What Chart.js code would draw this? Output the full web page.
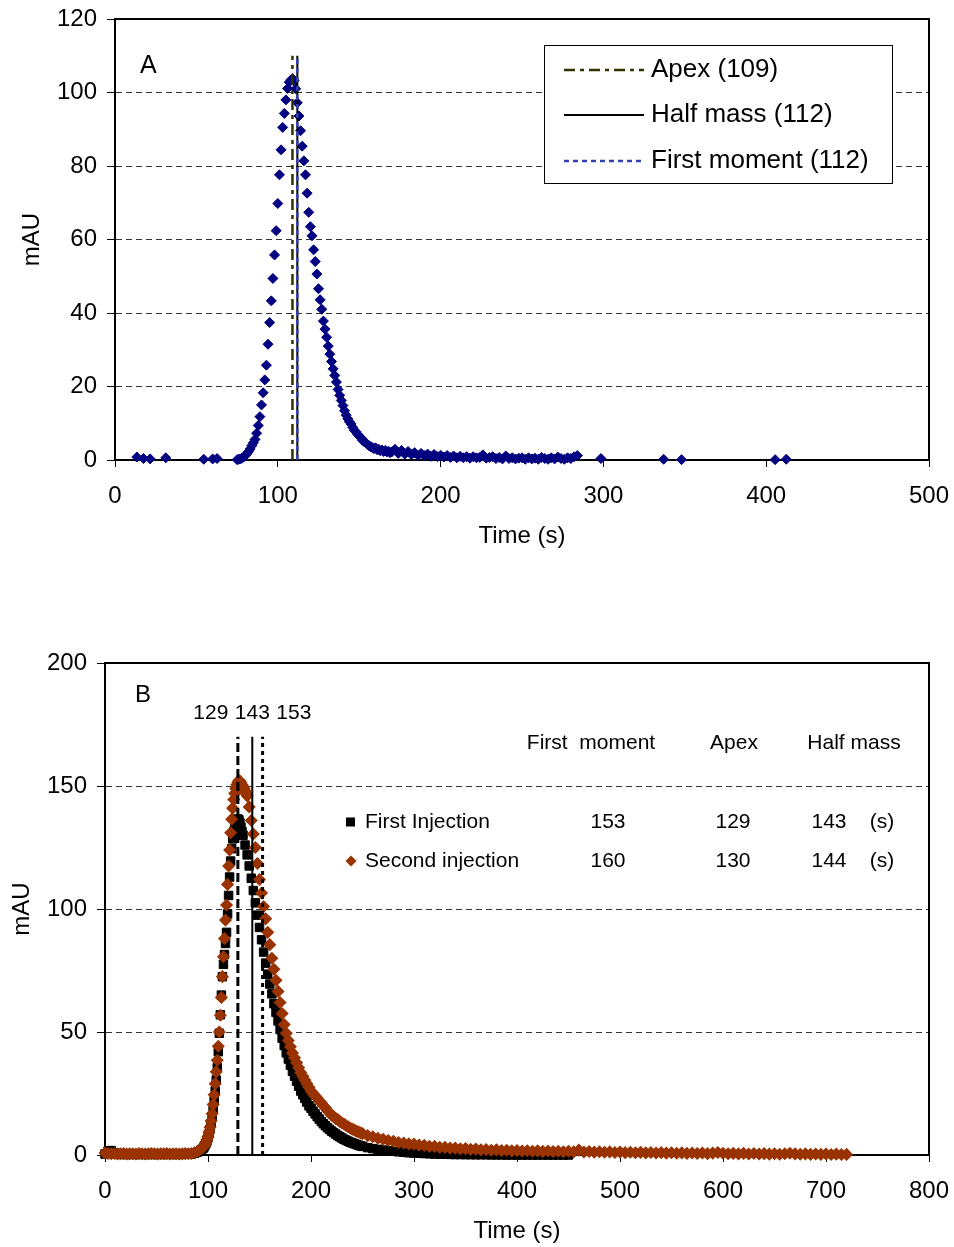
<!DOCTYPE html>
<html>
<head>
<meta charset="utf-8">
<script src="https://cdn.jsdelivr.net/npm/chart.js@4.4.1/dist/chart.umd.min.js"></script>
<style>
  html, body { margin: 0; padding: 0; background: #fff; }
  #chartA { position: absolute; left: 0; top: 0; }
  #chartB { position: absolute; left: 0; top: 600px; }
</style>
</head>
<body>
<canvas id="chartA" width="954" height="560"></canvas>
<canvas id="chartB" width="954" height="647"></canvas>
<script>
const FAMILY = "'Liberation Sans', Arial, sans-serif";

// ---- Panel A data (time in s, signal in mAU) ----
const baseTimeA = [13.4, 17.5, 21.6, 31.2, 54.5, 60.0, 62.7];
const baseMauA = [0.8, 0.4, 0.3, 0.6, 0.2, 0.3, 0.4];

const peakStartA = 75;   // 1 s sampling
const peakMauA = [
  0.1, 0.2, 0.3, 0.5, 0.8, 1.2, 1.7, 2.3, 3.0, 3.9,
  4.7, 5.6, 7.3, 9.4, 11.8, 15.0, 18.3, 21.8, 25.8, 31.5,
  37.4, 43.3, 49.4, 55.8, 62.4, 69.8, 77.6, 84.4, 90.5, 94.3,
  98.0, 101.1, 102.8, 103.4, 103.8, 103.2, 101.0, 97.2, 93.6, 89.6,
  85.4, 81.4, 77.6, 72.6, 67.4, 63.5, 61.0, 57.2, 54.0, 50.6,
  46.6, 43.6, 41.0, 37.8, 35.6, 33.4, 31.0, 28.8, 26.8, 24.8,
  23.0, 21.2, 19.2, 17.6, 16.2, 14.8, 13.4, 12.2, 11.2, 10.4,
  9.8, 8.9, 8.1, 7.7, 7.0, 6.5, 6.1, 5.4, 5.0, 4.7,
  4.3, 3.9, 3.6, 3.4, 3.1, 3.3, 2.8, 2.9, 2.5, 2.7,
  2.3, 2.6, 2.2, 2.4, 2.0, 2.2
];

const tailStartA = 172;  // 2 s sampling
const tailMauA = [
  2.9, 1.8, 2.6, 1.6, 2.3, 1.5, 2.0, 1.3, 1.8, 1.2,
  1.6, 1.0, 1.5, 0.9, 1.3, 0.8, 1.2, 0.7, 1.1, 0.6,
  1.0, 0.6, 0.9, 0.5, 0.9, 0.6, 0.7, 1.4, 0.5, 0.7,
  0.9, 0.4, 0.7, 0.3, 1.1, 0.4, 0.6, 0.3, 0.5, 0.6,
  0.2, 0.6, 0.3, 0.5, 0.2, 0.7, 0.4, 0.2, 0.6, 0.3,
  0.8, 0.4, 0.2, 0.6, 0.4, 0.9, 1.2
];

const lateTimeA = [298.5, 337, 348, 405.5, 412.3];
const lateMauA = [0.4, 0.2, 0.1, 0.1, 0.2];

const markerNamesA = ['Apex (109)', 'Half mass (112)', 'First moment (112)'];
const markerTimesA = [109, 112, 112];
const markerTopA = 110;

// ---- Panel B data ----
const baseStartB = 0;    // 3 s sampling
const firstBaseB = [
  0.4, 1.6, 1.8, 0.9, 0.3, 0.2, 0.3, 0.2, 0.2, 0.3,
  0.2, 0.2, 0.3, 0.2, 0.2, 0.3, 0.2, 0.2, 0.3, 0.2,
  0.2, 0.3, 0.2, 0.2, 0.3, 0.2, 0.3, 0.3, 0.4, 0.7,
  1.2, 2.0
];
const secondBaseB = [
  0.8, 0.6, 0.5, 0.6, 0.4, 0.5, 0.6, 0.4, 0.5, 0.5,
  0.4, 0.6, 0.5, 0.4, 0.5, 0.6, 0.5, 0.4, 0.5, 0.5,
  0.6, 0.4, 0.5, 0.5, 0.4, 0.5, 0.6, 0.5, 0.6, 0.9,
  1.5, 2.4
];

const riseStartB = 95;   // 1 s sampling
const firstRiseB = [
  2.6, 3.2, 3.9, 4.7, 5.7, 7.0, 8.6, 10.5, 12.8, 15.5,
  18.6, 22.0, 26.0, 30.5, 35.5, 42.0, 49.5, 57.0, 65.0, 72.5,
  77.5, 81.5, 86.0, 90.5, 98.0, 105.5, 113.0, 119.5, 124.5, 128.5,
  131.5, 134.0, 135.5, 136.3, 136.6, 136.2, 135.0, 133.3, 131.5
];
const secondRiseB = [
  3.0, 3.6, 4.3, 5.2, 6.3, 7.6, 9.3, 11.3, 13.8, 16.8,
  20.5, 24.5, 29.0, 33.8, 38.5, 44.2, 50.0, 56.8, 64.0, 72.5,
  80.6, 88.0, 95.5, 101.6, 110.0, 117.5, 124.0, 131.0, 136.5, 141.0,
  144.5, 147.0, 149.0, 150.5, 151.5, 152.2, 152.0, 151.3, 150.5, 149.8,
  149.0, 148.0, 147.0
];

const firstFallStartB = 134;  // 2 s sampling
const firstFallB = [
  130, 126, 122, 117.5, 112.5, 107.5, 102.5, 97.5, 92.5, 87.5,
  82.5, 78, 73.5, 69.5, 65.5, 61.5, 58, 54.5, 51, 47.5,
  44.5, 41.5, 39, 36.5, 34, 32, 30, 28, 26, 24.5,
  23, 21.5, 20, 19, 17.8, 16.7, 15.6, 14.6, 13.6, 12.7,
  11.9, 11.1, 10.4, 9.7, 9.1, 8.5, 7.9, 7.4, 6.9, 6.4,
  6.0, 5.6, 5.2, 4.9, 4.6, 4.3, 4.0, 3.7, 3.5
];
const secondFallStartB = 138;
const secondFallB = [
  146, 141.5, 136, 130.5, 125, 118.5, 112, 106.5, 101, 96,
  90.5, 85.5, 80, 75.5, 71, 66.5, 62, 57.5, 53, 49.5,
  46.5, 44, 41.5, 39.5, 37.5, 35.5, 33.5, 32, 30.5, 29,
  27.5, 26, 25, 24, 23.2, 22, 21.2, 20, 19.2, 18,
  17.2, 16.2, 15.6, 14.8, 14.4, 13.6, 13.0, 12.6, 12.0, 11.5,
  11.0, 10.5, 10.2, 9.7, 9.4, 9.0, 8.7
];

const tailStartB = 255;  // 5 s sampling
const firstTailB = [
  3.0, 2.6, 2.3, 2.0, 1.7, 1.5, 1.3, 1.1, 0.9, 0.8,
  0.7, 0.6, 0.5, 0.4, 0.35, 0.3, 0.25, 0.2, 0.2, 0.15,
  0.15, 0.1, 0.1, 0.1, 0.05, 0.05, 0.05, 0, 0, 0,
  0, 0, 0, 0, 0, 0, 0, 0, 0, 0
];
const secondTailB = [
  7.9, 7.4, 6.8, 6.4, 5.9, 5.6, 5.1, 4.9, 4.5, 4.4,
  4.0, 3.9, 3.5, 3.5, 3.1, 3.1, 2.8, 2.8, 2.5, 2.6,
  2.3, 2.4, 2.1, 2.2, 1.95, 2.1, 1.8, 1.95, 1.7, 1.85,
  1.6, 1.75, 1.5, 1.7, 1.45, 1.6, 1.4, 1.55, 1.3, 1.5,
  1.25, 2.0, 1.2, 1.4, 1.15, 1.3, 1.1, 1.25, 1.0, 1.2,
  0.95, 1.1, 0.9, 1.05, 0.85, 1.0, 0.8, 0.95, 0.75, 0.9,
  0.7, 0.85, 0.65, 0.8, 0.6, 0.8, 0.55, 0.75, 1.0, 0.7,
  0.5, 0.65, 0.45, 0.65, 0.4, 0.6, 0.4, 0.55, 0.35, 0.5,
  0.3, 0.5, 0.7, 0.45, 0.3, 0.45, 0.25, 0.4, 0.25, 0.4,
  0.2, 0.35, 0.2, 0.25
];

const lineTimesB = [129, 143, 153];
const lineTopB = 170;
const tableHeadB = ['First  moment', 'Apex', 'Half mass'];
const seriesNamesB = ['First Injection', 'Second injection'];
const firstRowB = [153, 129, 143];
const secondRowB = [160, 130, 144];

// ---- helpers ----
function seg(start, step, vals) {
  return vals.map((v, i) => ({ x: start + i * step, y: v }));
}
function pairs(ts, vals) {
  return ts.map((t, i) => ({ x: t, y: vals[i] }));
}
function vline(t, top, color, dash, width) {
  return {
    data: [{ x: t, y: 0 }, { x: t, y: top }],
    showLine: true, borderColor: color, borderDash: dash, borderWidth: width,
    pointRadius: 0, fill: false, clip: false
  };
}
function font(size) {
  return { family: FAMILY, size: size, lineHeight: 1.2 };
}
// the tick labels may hang over the plot edges; keep the plot box fixed
function noPad(s) {
  s.paddingLeft = 0; s.paddingRight = 0; s.paddingTop = 0; s.paddingBottom = 0;
}
function scalesFor(xMax, xStep, yMax, yStep, yWidth, xHeight, xTitlePad, yTitlePad) {
  return {
    x: {
      type: 'linear', min: 0, max: xMax,
      afterFit: s => { s.height = xHeight; noPad(s); },
      ticks: { stepSize: xStep, autoSkip: false, maxRotation: 0, color: '#000', padding: 15, font: font(24) },
      grid: { drawOnChartArea: false, tickLength: 7, color: '#000', lineWidth: 1 },
      border: { color: '#000', width: 2 },
      title: { display: true, text: 'Time (s)', color: '#000', font: font(24), padding: { top: 0, bottom: xTitlePad } }
    },
    y: {
      min: 0, max: yMax,
      afterFit: s => { s.width = yWidth; noPad(s); },
      ticks: { stepSize: yStep, color: '#000', padding: 10, font: font(24) },
      grid: { color: '#333', tickColor: '#000', tickLength: 8, lineWidth: 1 },
      border: { color: '#000', width: 2, dash: [6, 4] },
      title: { display: true, text: 'mAU', color: '#000', font: font(24), padding: { top: yTitlePad, bottom: 0 } }
    }
  };
}

const frame = {
  id: 'frame',
  beforeDatasetsDraw(chart) {
    const { ctx, chartArea: a } = chart;
    ctx.save();
    ctx.strokeStyle = '#000';
    ctx.lineWidth = 2;
    ctx.strokeRect(a.left, a.top, a.right - a.left, a.bottom - a.top);
    ctx.restore();
  }
};

// ---- Panel A ----
const pointsA = [].concat(
  pairs(baseTimeA, baseMauA),
  seg(peakStartA, 1, peakMauA),
  seg(tailStartA, 2, tailMauA),
  pairs(lateTimeA, lateMauA)
);

const lineStylesA = [
  { color: '#333300', dash: [11, 5, 4, 5], width: 2.5 },
  { color: '#000000', dash: [], width: 2 },
  { color: '#3340b0', dash: [5, 4], width: 2.5 }
];

const notesA = {
  id: 'notesA',
  afterDraw(chart) {
    const ctx = chart.ctx;
    ctx.save();
    ctx.fillStyle = '#000';
    ctx.textBaseline = 'middle';
    ctx.textAlign = 'left';
    ctx.font = '25px ' + FAMILY;
    ctx.fillText('A', 140, 66);

    // legend box
    ctx.fillStyle = '#fff';
    ctx.fillRect(544, 45, 348, 138);
    ctx.strokeStyle = '#000';
    ctx.lineWidth = 1;
    ctx.strokeRect(544.5, 45.5, 348, 138);
    const rows = [70, 115, 161];
    ctx.font = '26px ' + FAMILY;
    markerNamesA.forEach((name, i) => {
      const st = lineStylesA[i];
      ctx.beginPath();
      ctx.setLineDash(st.dash);
      ctx.strokeStyle = st.color;
      ctx.lineWidth = st.width;
      ctx.moveTo(564, rows[i]);
      ctx.lineTo(644, rows[i]);
      ctx.stroke();
      ctx.setLineDash([]);
      ctx.fillStyle = '#000';
      ctx.fillText(name, 651, rows[i]);
    });
    ctx.restore();
  }
};

new Chart(document.getElementById('chartA'), {
  type: 'scatter',
  data: {
    datasets: [
      vline(markerTimesA[2], markerTopA, lineStylesA[2].color, lineStylesA[2].dash, lineStylesA[2].width),
      vline(markerTimesA[1], markerTopA, lineStylesA[1].color, lineStylesA[1].dash, lineStylesA[1].width),
      vline(markerTimesA[0], markerTopA, lineStylesA[0].color, lineStylesA[0].dash, lineStylesA[0].width),
      {
        data: pointsA, pointStyle: 'rectRot', pointRadius: 5,
        backgroundColor: '#000080', borderColor: '#000080', borderWidth: 1, clip: false
      }
    ]
  },
  options: {
    responsive: false, animation: false, events: [],
    layout: { autoPadding: false, padding: { left: 0, top: 19, right: 25, bottom: 0 } },
    plugins: { legend: { display: false }, tooltip: { enabled: false } },
    scales: scalesFor(500, 100, 120, 20, 115, 100, 9, 18)
  },
  plugins: [frame, notesA]
});

// ---- Panel B ----
const firstPointsB = [].concat(
  seg(baseStartB, 3, firstBaseB),
  seg(riseStartB, 1, firstRiseB),
  seg(firstFallStartB, 2, firstFallB),
  seg(tailStartB, 5, firstTailB)
);
const secondPointsB = [].concat(
  seg(baseStartB, 3, secondBaseB),
  seg(riseStartB, 1, secondRiseB),
  seg(secondFallStartB, 2, secondFallB),
  seg(tailStartB, 5, secondTailB)
);

const notesB = {
  id: 'notesB',
  afterDraw(chart) {
    const ctx = chart.ctx;
    const x = chart.scales.x;
    ctx.save();
    ctx.fillStyle = '#000';
    ctx.textBaseline = 'middle';
    ctx.textAlign = 'left';
    ctx.font = '24px ' + FAMILY;
    ctx.fillText('B', 135, 95);

    ctx.font = '21px ' + FAMILY;
    ctx.textAlign = 'center';
    const mid = x.getPixelForValue(lineTimesB[1]);
    lineTimesB.forEach((t, i) => ctx.fillText(String(t), mid + (i - 1) * 41.5, 113));

    const headX = [591, 734, 854];
    tableHeadB.forEach((h, i) => ctx.fillText(h, headX[i], 143));
    const valX = [608, 733, 829];
    const rowY = [222, 261];
    [firstRowB, secondRowB].forEach((row, r) => {
      row.forEach((v, i) => ctx.fillText(String(v), valX[i], rowY[r]));
      ctx.fillText('(s)', 882, rowY[r]);
    });
    ctx.textAlign = 'left';
    seriesNamesB.forEach((n, r) => ctx.fillText(n, 365, rowY[r]));

    // legend markers
    ctx.fillStyle = '#000';
    ctx.fillRect(346, rowY[0] - 4.5, 9, 9);
    ctx.fillStyle = '#993300';
    ctx.beginPath();
    ctx.moveTo(351, rowY[1] - 5.5);
    ctx.lineTo(356.5, rowY[1]);
    ctx.lineTo(351, rowY[1] + 5.5);
    ctx.lineTo(345.5, rowY[1]);
    ctx.closePath();
    ctx.fill();
    ctx.restore();
  }
};

new Chart(document.getElementById('chartB'), {
  type: 'scatter',
  data: {
    datasets: [
      vline(lineTimesB[2], lineTopB, '#000', [4, 4], 3),
      vline(lineTimesB[1], lineTopB, '#000', [], 2),
      vline(lineTimesB[0], lineTopB, '#000', [9, 4], 3),
      {
        data: secondPointsB, pointStyle: 'rectRot', pointRadius: 5.5,
        backgroundColor: '#993300', borderColor: '#993300', borderWidth: 1.5, clip: false
      },
      {
        data: firstPointsB, pointStyle: 'rect', pointRadius: 6,
        backgroundColor: '#000', borderColor: '#000', borderWidth: 1, clip: false
      }
    ]
  },
  options: {
    responsive: false, animation: false, events: [],
    layout: { autoPadding: false, padding: { left: 0, top: 63, right: 25, bottom: 0 } },
    plugins: { legend: { display: false }, tooltip: { enabled: false } },
    scales: scalesFor(800, 100, 200, 50, 105, 92, 1, 8)
  },
  plugins: [frame, notesB]
});
</script>
</body>
</html>
